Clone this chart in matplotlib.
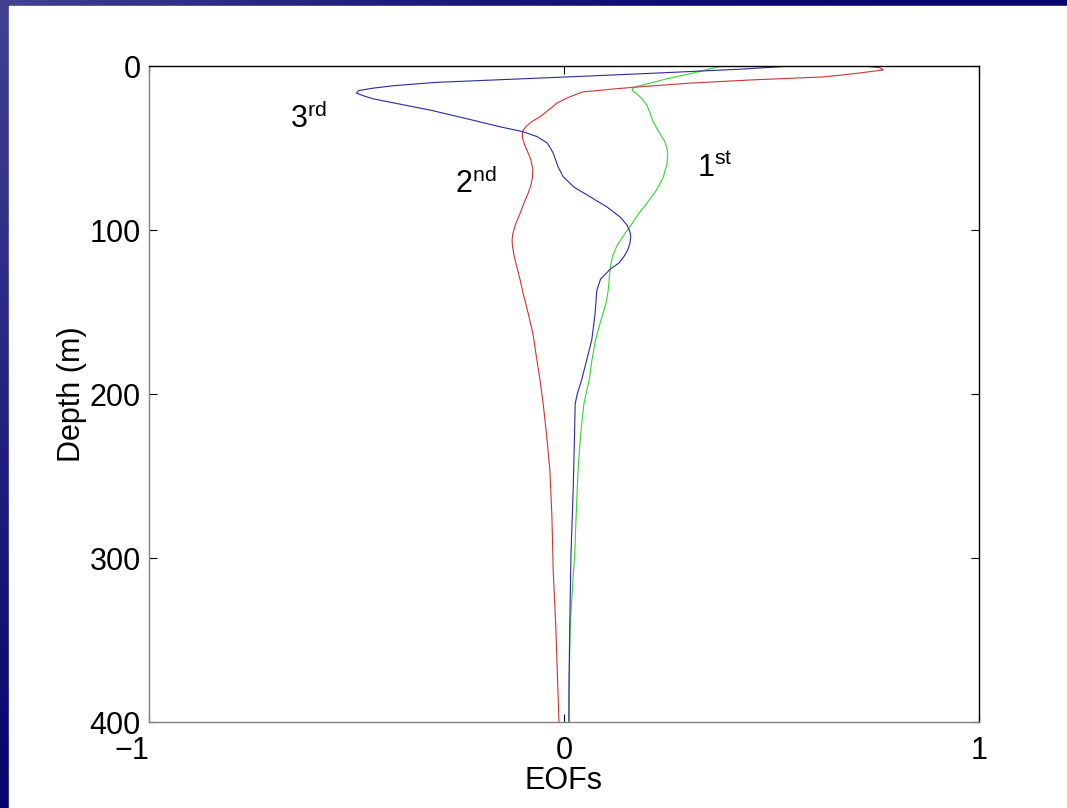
import matplotlib
matplotlib.use("Agg")
import matplotlib.pyplot as plt
import numpy as np
from matplotlib.patches import Rectangle

plt.rcParams['font.family'] = ['Liberation Sans', 'DejaVu Sans']
plt.rcParams['mathtext.fontset'] = 'custom'
plt.rcParams['mathtext.rm'] = 'Liberation Sans'
plt.rcParams['mathtext.it'] = 'Liberation Sans'

# EOF profiles: depth (m) and amplitude
depth_1st = [0, 4, 8, 12.8, 14, 15.5, 17, 20, 24, 29, 34, 40, 46, 50, 54, 60, 68,
             76, 83, 90, 98, 104, 110, 116, 122, 130, 138, 145, 155, 167, 180,
             191, 206, 225, 246, 270, 297, 320, 342, 370, 400]
eof_1st = [0.38, 0.315, 0.245, 0.171, 0.164, 0.167, 0.176, 0.188, 0.20, 0.208,
           0.215, 0.228, 0.243, 0.248, 0.25, 0.248, 0.239, 0.222, 0.202, 0.18,
           0.159, 0.142, 0.127, 0.117, 0.112, 0.109, 0.106, 0.101, 0.089, 0.076,
           0.067, 0.061, 0.048, 0.04, 0.034, 0.03, 0.026, 0.02, 0.015, 0.013, 0.012]

depth_2nd = [0, 1, 2.4, 4, 5.5, 6.7, 8.5, 10.5, 12.8, 14, 15.8, 19, 22.6, 25, 28,
             31, 34, 37, 40, 44, 48, 52, 57, 63, 68, 73, 78, 84, 90, 96, 102,
             106, 110, 116, 122, 130, 138, 150, 163, 178, 191, 206, 225, 246,
             275, 307, 340, 370, 400]
eof_2nd = [0.72, 0.76, 0.77, 0.72, 0.67, 0.62, 0.45, 0.30, 0.176, 0.12, 0.045,
           0.012, -0.017, -0.028, -0.043, -0.058, -0.078, -0.092, -0.10, -0.10,
           -0.095, -0.088, -0.08, -0.075, -0.076, -0.08, -0.087, -0.097, -0.106,
           -0.116, -0.123, -0.125, -0.124, -0.12, -0.114, -0.106, -0.099, -0.087,
           -0.075, -0.066, -0.058, -0.05, -0.042, -0.034, -0.029, -0.026, -0.02,
           -0.016, -0.012]

depth_3rd = [0, 2, 4, 6, 8, 10, 12, 13.5, 15, 16.5, 18, 20, 22, 27, 33, 37, 40, 43,
             47, 53, 61.6, 67.5, 74, 80, 86, 92, 97, 101, 104, 108, 112, 116,
             120, 124, 130, 137, 151, 167, 179, 191, 200, 206, 230, 260, 297,
             340, 380, 400]
eof_3rd = [0.55, 0.42, 0.25, 0.07, -0.12, -0.31, -0.41, -0.46, -0.495, -0.50,
           -0.485, -0.46, -0.42, -0.32, -0.22, -0.155, -0.10, -0.065, -0.04,
           -0.026, -0.014, -0.002, 0.025, 0.065, 0.104, 0.135, 0.152, 0.159,
           0.161, 0.159, 0.154, 0.145, 0.133, 0.111, 0.088, 0.079, 0.075, 0.067,
           0.055, 0.043, 0.032, 0.027, 0.025, 0.022, 0.017, 0.014, 0.012, 0.012]

labels = ['1$^{\\rm st}$', '2$^{\\rm nd}$', '3$^{\\rm rd}$']
label_x = [0.32, -0.263, -0.66]
label_d = [67.7, 77.4, 37.8]

fig = plt.figure(figsize=(10.67, 8.08), dpi=100)

# slide background: blue strip on the left and top
bg = fig.add_axes([0, 0, 1, 1], zorder=-10)
yy, xx = np.mgrid[0:1:200j, 0:1:200j]
shade = np.clip(0.6 * (1 - yy) * (1 - xx) ** 2, 0, 1)
img = np.zeros((200, 200, 3))
img[..., 0] = 0.02 + 0.40 * shade
img[..., 1] = 0.02 + 0.40 * shade
img[..., 2] = 0.42 + 0.25 * shade
bg.imshow(img, extent=[0, 1, 0, 1], origin='upper', aspect='auto')
bg.add_patch(Rectangle((9 / 1067, 0), 1, 1 - 6 / 808, color='white', zorder=2))
bg.set_xlim(0, 1)
bg.set_ylim(0, 1)
bg.axis('off')

ax = fig.add_axes([0.1396, 0.1064, 0.9175 - 0.1396, 0.9183 - 0.1064])
ax.plot(eof_1st, depth_1st, color='#33d633', lw=0.8)
ax.plot(eof_2nd, depth_2nd, color='#d03333', lw=0.8)
ax.plot(eof_3rd, depth_3rd, color='#2a2a9c', lw=0.8)

for lab, lx, ld in zip(labels, label_x, label_d):
    ax.text(lx, ld, lab, fontsize=22, ha='left', va='baseline')

ax.set_xlim(-1, 1)
ax.set_ylim(400, 0)
ax.set_xticks([-1, 0, 1])
ax.set_yticks([0, 100, 200, 300, 400])
ax.set_xticklabels(['\u22121', '0', '1'])
ax.tick_params(direction='in', length=6, width=0.8, labelsize=22,
               top=True, right=True)
ax.tick_params(axis='x', pad=10)
ax.tick_params(axis='y', pad=6)
ax.get_xticklabels()[0].set_horizontalalignment('right')
ax.set_xlabel('EOFs', fontsize=22, labelpad=0)
ax.set_ylabel('Depth (m)', fontsize=22, labelpad=2)
ax.spines['left'].set_color('#808080')
ax.spines['bottom'].set_color('#808080')
for s in ax.spines.values():
    s.set_linewidth(1.0)

fig.savefig('out.png', dpi=100)
